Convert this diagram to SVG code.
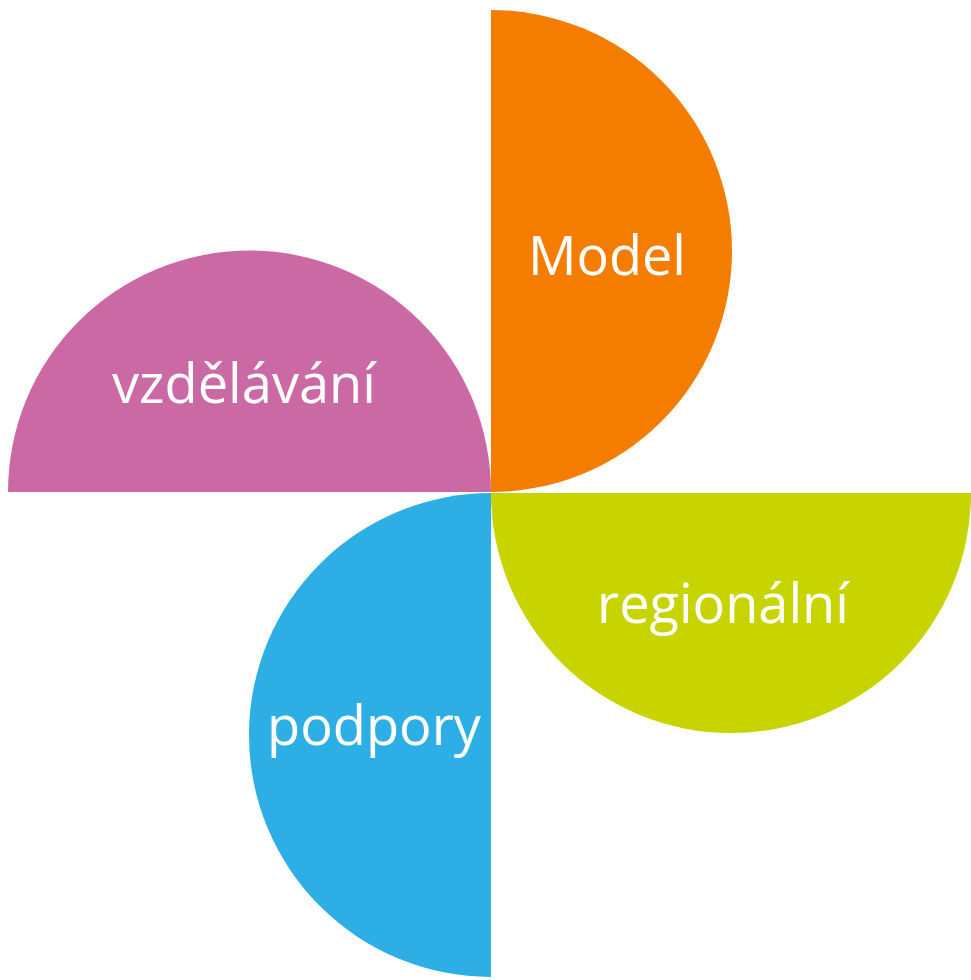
<svg xmlns="http://www.w3.org/2000/svg" width="971" height="980" viewBox="0 0 971 980">
<style>
.lbl{font-family:"Open Sans","Noto Sans","Liberation Sans",sans-serif;font-size:54px;fill:#ffffff;text-anchor:middle}
</style>
<rect width="971" height="980" fill="#ffffff"/>
<g id="model">
<path d="M491,10 A241,241 0 0 1 491,492 Z" fill="#F47D00"/>
<text class="lbl" x="607" y="275" textLength="158" lengthAdjust="spacingAndGlyphs">Model</text>
</g>
<g id="vzdelavani">
<path d="M8,492 A241.5,241.5 0 0 1 491,492 Z" fill="#CB69A4"/>
<text class="lbl" x="244" y="403" textLength="264" lengthAdjust="spacingAndGlyphs">vzdělávání</text>
</g>
<g id="regionalni">
<path d="M491,493 L971,493 A240,240 0 0 1 491,493 Z" fill="#C8D400"/>
<text class="lbl" x="723" y="623" textLength="252" lengthAdjust="spacingAndGlyphs">regionální</text>
</g>
<g id="podpory">
<path d="M491,493 L491,977 A242,242 0 0 1 491,493 Z" fill="#2DAEE5"/>
<text class="lbl" x="374" y="745" textLength="214" lengthAdjust="spacingAndGlyphs">podpory</text>
</g>
<g id="connectors"></g>
</svg>
